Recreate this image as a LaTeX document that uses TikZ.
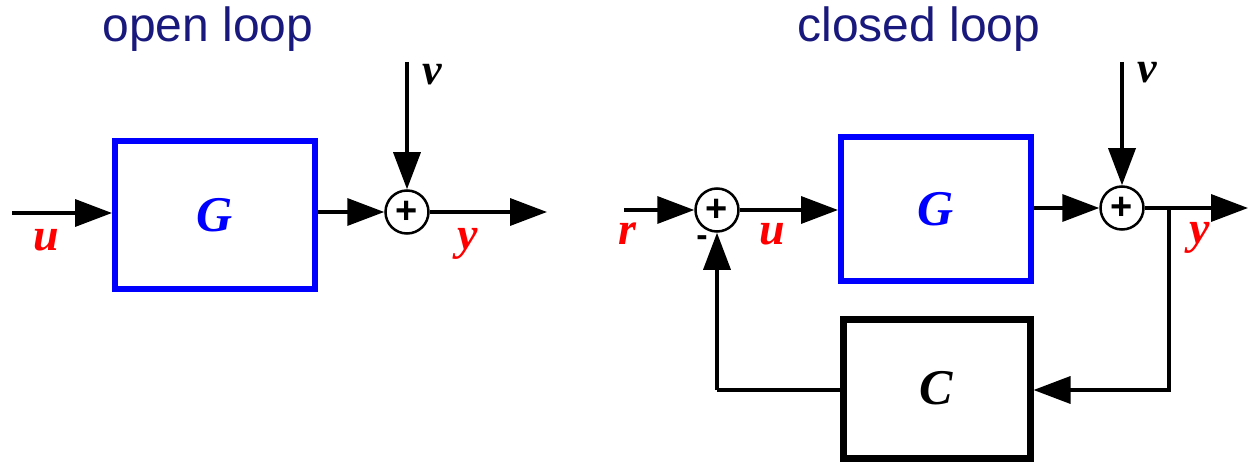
\documentclass[tikz,border=0pt]{standalone}
\usepackage{fontspec}
\setmainfont{Liberation Serif}
\newfontfamily\titlefont{Liberation Sans}
\usetikzlibrary{arrows.meta}
\definecolor{titleblue}{RGB}{25,25,125}
\definecolor{gblue}{RGB}{0,0,255}
\definecolor{lred}{RGB}{255,0,0}
\begin{document}
\begin{tikzpicture}[x=1pt,y=-1pt,
  sig/.style={line width=3.5pt,-{Triangle[length=37pt,width=27pt]}},
  wire/.style={line width=3.5pt},
  sumnode/.style={circle,draw,line width=2.5pt,minimum size=43pt,inner sep=0pt,
    font=\titlefont\bfseries\fontsize{38}{38}\selectfont},
  plant/.style={draw=gblue,line width=6pt,inner sep=0pt,text=gblue,
    font=\bfseries\itshape\fontsize{50}{50}\selectfont},
  ctrl/.style={draw=black,line width=7pt,inner sep=0pt,
    font=\bfseries\itshape\fontsize{50}{50}\selectfont},
  siglabel/.style={text=lred,inner sep=0pt,font=\bfseries\itshape\fontsize{46}{46}\selectfont},
  vlabel/.style={text=black,inner sep=0pt,font=\bfseries\itshape\fontsize{44}{44}\selectfont},
  title/.style={text=titleblue,inner sep=0pt,anchor=base,font=\titlefont\fontsize{48}{48}\selectfont}
]
\path[use as bounding box] (0,0) rectangle (1249,462);

% ---------- open loop ----------
\node[title] (t1) at (208,42) {open loop};
\node[plant,minimum width=200pt,minimum height=148pt] (G1) at (215,215) {G};
\node[sumnode] (S1) at (407,212) {+};
\coordinate (u1) at (12,213);
\coordinate (v1) at (407,62);
\coordinate (y1) at (547,212);
\draw[sig] (u1) -- (u1 -| G1.west);
\draw[sig] (G1.east |- S1) -- (S1);
\draw[sig] (v1) -- (S1);
\draw[sig] (S1) -- (y1);
\node[siglabel] (lu1) at (46,240) {u};
\node[siglabel] (ly1) at (468,244) {y};
\node[vlabel] (lv1) at (432,75) {v};

% ---------- closed loop ----------
\node[title] (t2) at (919,42) {closed loop};
\node[sumnode] (S2) at (717,210) {+};
\node[plant,minimum width=190pt,minimum height=144pt] (G2) at (936,209) {G};
\node[sumnode] (S3) at (1122,208) {+};
\node[ctrl,minimum width=187pt,minimum height=139pt] (C) at (936.5,388.5) {C};
\coordinate (r0) at (624,210);
\coordinate (v2) at (1122,62);
\coordinate (y2) at (1248,208);
\coordinate (br) at (1169,208);
\coordinate (brd) at (1169,390);
\coordinate (fbl) at (717,390);
\draw[sig] (r0) -- (S2);
\draw[sig] (S2) -- (S2 -| G2.west);
\draw[sig] (G2.east |- S3) -- (S3);
\draw[sig] (v2) -- (S3);
\draw[sig] (S3) -- (y2);
\draw[sig] (br) -- (brd) -- (brd -| C.east);
\draw[wire] (C.west |- fbl) -- (fbl);
\draw[sig] (fbl) -- (S2);
\node[siglabel] (lr) at (627,234) {r};
\node[siglabel] (lu2) at (772,234) {u};
\node[siglabel] (ly2) at (1200,238) {y};
\node[vlabel] (lv2) at (1147,73) {v};
\node[inner sep=0pt,font=\titlefont\bfseries\fontsize{34}{34}\selectfont] (minus) at (702,241) {-};
\end{tikzpicture}
\end{document}
